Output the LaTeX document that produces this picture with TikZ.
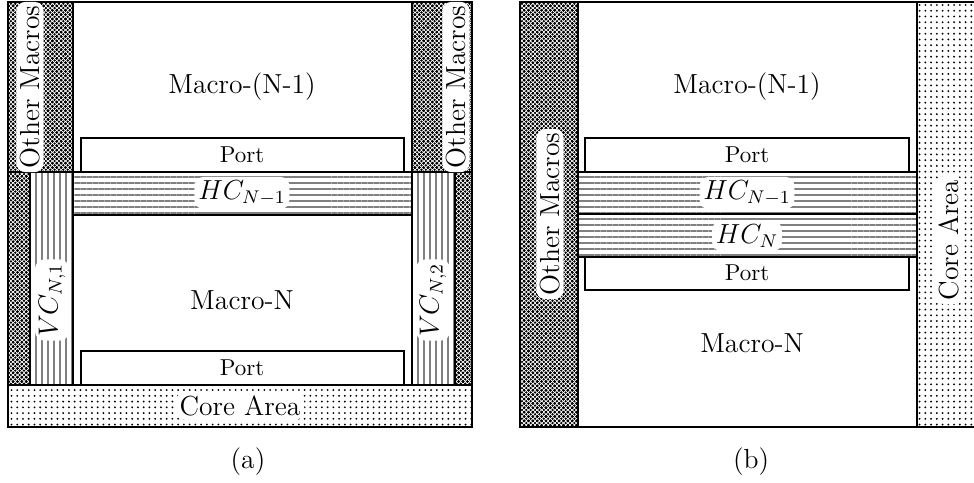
\documentclass[tikz,border=0pt]{standalone}
\usetikzlibrary{patterns,patterns.meta}

\pgfdeclarepatternformonly{checkdots}{\pgfqpoint{-1pt}{-1pt}}{\pgfqpoint{3pt}{3pt}}{\pgfqpoint{1.9pt}{1.9pt}}{
  \pgfpathcircle{\pgfqpoint{0pt}{0pt}}{0.57pt}
  \pgfpathcircle{\pgfqpoint{1.9pt}{0pt}}{0.57pt}
  \pgfpathcircle{\pgfqpoint{0pt}{1.9pt}}{0.57pt}
  \pgfpathcircle{\pgfqpoint{1.9pt}{1.9pt}}{0.57pt}
  \pgfpathcircle{\pgfqpoint{0.95pt}{0.95pt}}{0.57pt}
  \pgfusepath{fill}
}

\begin{document}
\begin{tikzpicture}[x=0.435pt, y=-0.435pt,
    block/.style = {draw=black, semithick, fill=white},
    othermac/.style = {draw=black, semithick, pattern=checkdots},
    corearea/.style = {draw=black, semithick, pattern={Dots[distance=2.5pt, radius=0.45pt]}},
    hchan/.style = {draw=black, semithick, pattern={Lines[distance=2.6pt, line width=0.8pt]}, pattern color=gray},
    vchan/.style = {draw=black, semithick, pattern={Lines[angle=90, distance=2.6pt, line width=0.8pt]}, pattern color=gray},
    big/.style = {font=\large},
    halo/.style = {font=\large, fill=white, rounded corners=4pt, inner sep=1.6pt}]
    \useasboundingbox (0,0) rectangle (974,482);

    % (a) two macros stacked, channels on both sides
    \draw[othermac] (8,2) rectangle (73,172);
    \draw[othermac] (412,2) rectangle (472,172);
    \draw[block] (73,2) rectangle (412,172);
    \draw[block] (81,138) rectangle (404,172);
    \draw[hchan] (73,172) rectangle (412,215);
    \draw[othermac] (8,172) rectangle (30,385);
    \draw[vchan] (30,172) rectangle (73,385);
    \draw[vchan] (412,172) rectangle (455,385);
    \draw[othermac] (455,172) rectangle (472,385);
    \draw[block] (73,215) rectangle (412,385);
    \draw[block] (81,351) rectangle (404,385);
    \draw[corearea] (8,385) rectangle (472,427);

    \node[big] (macA1) at (242,87) {Macro-(N-1)};
    \node (portA1) at (242,155) {Port};
    \node[halo] (hcA) at (242,193) {$HC_{N-1}$};
    \node[big] (macA2) at (242,300) {Macro-N};
    \node (portA2) at (242,368) {Port};
    \node[halo] (coreA) at (240,406) {Core Area};
    \node[halo, rotate=90] (omA1) at (30,87) {Other Macros};
    \node[halo, rotate=90] (omA2) at (456,87) {Other Macros};
    \node[halo, rotate=90] (vcA1) at (52,300) {$VC_{N,1}$};
    \node[halo, rotate=90] (vcA2) at (433,300) {$VC_{N,2}$};
    \node[big] (capA) at (248,462) {(a)};

    % (b) macros abutted, channels in between
    \draw[othermac] (520,2) rectangle (578,427);
    \draw[block] (578,2) rectangle (917,172);
    \draw[block] (585,138) rectangle (909,172);
    \draw[hchan] (578,172) rectangle (917,214);
    \draw[hchan] (578,214) rectangle (917,257);
    \draw[block] (578,257) rectangle (917,427);
    \draw[block] (585,257) rectangle (909,290);
    \draw[corearea] (917,2) rectangle (975,427);

    \node[big] (macB1) at (747,87) {Macro-(N-1)};
    \node (portB1) at (747,155) {Port};
    \node[halo] (hcB1) at (747,193) {$HC_{N-1}$};
    \node[halo] (hcB2) at (747,236) {$HC_{N}$};
    \node (portB2) at (747,273) {Port};
    \node[big] (macB2) at (752,343) {Macro-N};
    \node[halo, rotate=90] (omB) at (550,214) {Other Macros};
    \node[halo, rotate=90] (coreB) at (949,240) {Core Area};
    \node[big] (capB) at (751,462) {(b)};
\end{tikzpicture}
\end{document}
